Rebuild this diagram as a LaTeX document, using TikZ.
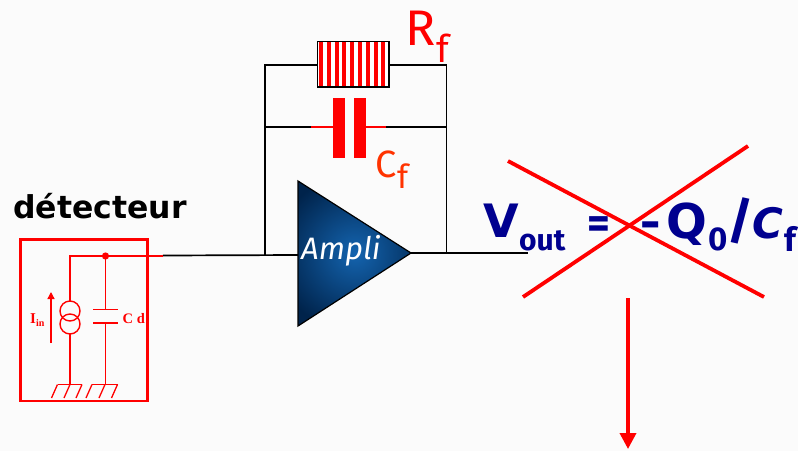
\documentclass[tikz,border=0pt]{standalone}
\usepackage{fontspec}
\setmainfont{Fira Sans}
\newfontfamily\djv{DejaVu Sans}
\newfontfamily\lib{Liberation Serif}
\usetikzlibrary{arrows.meta}
\definecolor{bgc}{HTML}{FBFBFB}
\definecolor{navyt}{HTML}{00008F}
\definecolor{orangered}{HTML}{FF3300}
\tikzset{
  x=1pt,y=-1pt,
  wire/.style={draw=black,line width=1.7pt},
  thinwire/.style={draw=black,line width=1.5pt},
  redwire/.style={draw=red,line width=1.4pt},
  redbox/.style={draw=red,line width=2.4pt},
  cross/.style={draw=red,line width=3.8pt},
  lbl/.style={inner sep=0pt,anchor=base west},
  plate/.style={fill=red,draw=none},
}
\begin{document}
\begin{tikzpicture}
\useasboundingbox (0,0) rectangle (798,451);
\fill[bgc] (0,0) rectangle (798,451);
% terminals
\coordinate (jl) at (265,255);
\coordinate (jr) at (446.5,253);
\coordinate (tl) at (265,65);
\coordinate (tr) at (446.5,65);
\coordinate (ml) at (265,127);
\coordinate (mr) at (446.5,127);
\coordinate (rl) at (317,65);
\coordinate (rr) at (389,65);
\coordinate (in) at (298,255);
\coordinate (out) at (411,253);
\coordinate (outend) at (528,253);
\coordinate (rs) at (163,255.5);
\coordinate (dot) at (105.5,256);
\coordinate (wl) at (70,256);
% feedback wires
\draw[thinwire] (jl) -- (tl) -- (rl);
\draw[thinwire] (rr) -- (tr) -- (jr);
\draw[wire] (rs) -- (in);
\draw[wire] (out) -- (outend);
\draw[thinwire] (jl) -- (ml) -- (311,127);
\draw[thinwire] (386,127) -- (mr) -- (jr);
\draw[draw=red,line width=1.3pt] (311,127) -- (333,127);
\draw[draw=red,line width=1.3pt] (365,127) -- (386,127);
% resistor
\fill[white] (317,41) rectangle (389,87);
\foreach \i in {0,...,8}{
  \fill[red] ({319+7.8*\i},41) rectangle ({323+7.8*\i},87);
}
\draw[black,line width=1.3pt] (317.5,41.5) rectangle (389,87);
% capacitor Cf
\fill[plate] (333,98) rectangle (345,158);
\fill[plate] (353.5,98) rectangle (365.5,158);
% amplifier
\begin{scope}
\clip (298,181) -- (411,253) -- (298,326) -- cycle;
\shade[inner color={rgb,255:red,20;green,100;blue,175},outer color={rgb,255:red,0;green,35;blue,75}] (275,175) rectangle (435,331);
\end{scope}
\draw[black,line width=1.2pt,line join=miter] (298,181) -- (411,253) -- (298,326) -- cycle;
\node[lbl,text=white,font=\itshape\fontsize{31}{31}\selectfont] (amp) at (301,259) {Ampli};
% labels
\node[lbl,font=\djv\bfseries\fontsize{31.5}{32}\selectfont] (det) at (13,218) {détecteur};
\node[lbl,text=red,font=\fontsize{50}{50}\selectfont] (rf) at (405,45) {R};
\node[lbl,text=red,font=\fontsize{38}{38}\selectfont] (rfs) at (436,62) {f};
\node[lbl,text=orangered,font=\fontsize{38}{38}\selectfont] (cf) at (375,177) {C};
\node[lbl,text=orangered,font=\fontsize{33}{33}\selectfont] (cfs) at (397,188) {f};
% detector box
\draw[redbox] (20.5,239.5) rectangle (147.5,401);
\draw[redwire] (163,256) -- (dot) -- (wl) -- (70,301.5);
\fill[red] (dot) circle (3.6);
\draw[redwire] (70,311) circle (10);
\draw[redwire] (70,324) circle (10);
\draw[redwire] (70,334) -- (70,384);
\draw[redwire] (dot) -- (105.5,309.5);
\draw[redwire] (105.5,323) -- (105.5,384);
\draw[draw=red,line width=1.6pt] (93,309.5) -- (118,309.5);
\draw[draw=red,line width=1.6pt] (93,323) -- (118,323);
\draw[draw=red,line width=1.4pt] (57.5,384.5) -- (82,384.5);
\draw[draw=red,line width=1.4pt] (92,384.5) -- (117.5,384.5);
\foreach \xx in {57.5,70,82,92,105,117.5}{
  \draw[draw=red,line width=1.3pt] (\xx,384.5) -- (\xx-6,398);
}
\draw[draw=red,line width=1.3pt,-{Triangle[length=7pt,width=7pt]}] (51,343) -- (51,292);
\node[lbl,text=red,font=\lib\bfseries\fontsize{15}{15}\selectfont] (iin) at (30,323) {I};
\node[lbl,text=red,font=\lib\bfseries\fontsize{10}{10}\selectfont] (iins) at (36,326) {in};
\node[lbl,text=red,font=\lib\bfseries\fontsize{14.5}{15}\selectfont] (cd) at (122.5,323) {C d};
% formula
\node[lbl,text=navyt,font=\djv\bfseries\fontsize{46}{46}\selectfont] (v) at (483,237) {V};
\node[lbl,text=navyt,font=\bfseries\fontsize{30}{30}\selectfont] (vo) at (519,250) {out};
\node[lbl,text=navyt,font=\bfseries\fontsize{44}{44}\selectfont] (eq) at (587,238) {=};
\node[lbl,text=navyt,font=\bfseries\fontsize{50}{50}\selectfont] (minus) at (640,240) {-};
\node[lbl,text=navyt,font=\djv\bfseries\fontsize{48}{48}\selectfont] (q) at (666,238) {Q};
\node[lbl,text=navyt,font=\bfseries\fontsize{33}{33}\selectfont] (q0) at (708,250) {0};
\node[lbl,text=navyt,font=\bfseries\fontsize{50}{50}\selectfont] (sl) at (727,238) {/};
\node[lbl,text=navyt,font=\djv\bfseries\itshape\fontsize{42}{42}\selectfont] (cc) at (752,238) {C};
\node[lbl,text=navyt,font=\bfseries\fontsize{33}{33}\selectfont] (cf2) at (784,251) {f};
% cross
\coordinate (xa) at (508,161);
\coordinate (xb) at (764,297);
\coordinate (xc) at (523,297);
\coordinate (xd) at (748,146);
\draw[cross] (xa) -- (xb);
\draw[cross] (xc) -- (xd);
% arrow
\coordinate (aa) at (628,298);
\coordinate (ab) at (628,449);
\draw[draw=red,line width=3.6pt,-{Triangle[length=16pt,width=16pt]}] (aa) -- (ab);
\end{tikzpicture}
\end{document}
